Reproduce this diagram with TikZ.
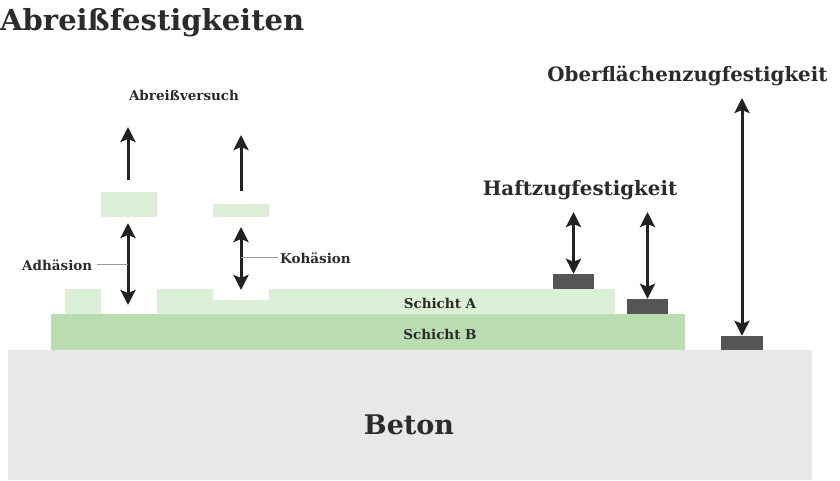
\documentclass[tikz,border=0pt]{standalone}
\usepackage{fontspec}
\setmainfont{DejaVu Serif}
\usetikzlibrary{arrows.meta,positioning}
\definecolor{textgray}{HTML}{2B2B2B}
\definecolor{arrowgray}{HTML}{222222}
\definecolor{schichta}{HTML}{DCEFD7}
\definecolor{schichtb}{HTML}{B9DDB1}
\definecolor{beton}{HTML}{E8E8E8}
\definecolor{stempel}{HTML}{555555}
\tikzset{
  spitze/.tip={Stealth[length=15pt,width=15pt,inset=3pt]},
  pfeil/.style={draw=arrowgray,line width=3pt,-spitze},
  doppelpfeil/.style={pfeil,spitze-spitze},
  stempelbox/.style={rectangle,fill=stempel,inner sep=0pt,minimum width=41pt,minimum height=15pt},
  stueck/.style={rectangle,fill=schichta,inner sep=0pt,minimum width=56pt},
  beschriftung/.style={text=textgray,font=\bfseries\fontsize{13.5}{15}\selectfont,inner sep=0pt,anchor=base},
  hinweis/.style={draw=gray!80,line width=0.8pt}
}
\begin{document}
\begin{tikzpicture}[x=1pt,y=-1pt,line join=round]
	\useasboundingbox (0,0) rectangle (840,480);
	% Untergrund und Schichten
	\fill[beton] (8,350) rectangle (812,480);
	\fill[schichtb] (51,314) rectangle (685,350);
	\fill[schichta] (65,289) rectangle (101,314);
	\fill[schichta] (157,314)--(157,289)--(213,289)--(213,300)--(269,300)--(269,289)
		--(615,289)--(615,314)--cycle;
	% abgerissene Stuecke
	\node[stueck,minimum height=25pt] (adhstueck) at (129,204.5) {};
	\node[stueck,minimum height=13pt] (kohstueck) at (241,210.5) {};
	% Pruefstempel
	\node[stempelbox] (stempelA) at (573.5,281.5) {};
	\node[stempelbox] (stempelB) at (647.5,306.5) {};
	\node[stempelbox,minimum width=42pt,minimum height=14pt] (stempelC) at (742,343) {};
	% Pfeilenden
	\coordinate (adhoben) at (128,127);
	\coordinate (adhstart) at (128,180);
	\coordinate (adhmitte) at (128,223);
	\coordinate (adhunten) at (128,305);
	\coordinate (kohoben) at (241,135);
	\coordinate (kohstart) at (241,191);
	\coordinate (kohmitte) at (241,227);
	\coordinate (kohunten) at (241,290);
	\coordinate (haftA) at (573.5,212);
	\coordinate (haftB) at (647.5,212);
	\coordinate (oberC) at (742,98);
	\draw[pfeil] (adhstart)--(adhoben);
	\draw[pfeil] (kohstart)--(kohoben);
	\draw[doppelpfeil] (adhmitte)--(adhunten);
	\draw[doppelpfeil] (kohmitte)--(kohunten);
	\draw[doppelpfeil] (haftA)--(stempelA.north);
	\draw[doppelpfeil] (haftB)--(stempelB.north);
	\draw[doppelpfeil] (oberC)--(stempelC.north);
	% Beschriftungen
	\node[beschriftung,font=\bfseries\fontsize{29}{32}\selectfont,anchor=base west] (titel) at (0,30) {Abreißfestigkeiten};
	\node[beschriftung] (versuch) at (184,100) {Abreißversuch};
	\node[beschriftung,anchor=base west] (adhtext) at (22,270) {Adhäsion};
	\node[beschriftung,anchor=base west] (kohtext) at (280,263) {Kohäsion};
	\draw[hinweis] (adhtext.east) ++(5pt,0) coordinate (adhlinie) -- (adhlinie -| adhmitte);
	\draw[hinweis] (kohtext.west) ++(-2pt,0) coordinate (kohlinie) -- (kohlinie -| kohmitte);
	\node[beschriftung] (schichtatext) at (440,308) {Schicht A};
	\node[beschriftung] (schichtbtext) at (440,339) {Schicht B};
	\node[beschriftung,font=\bfseries\fontsize{19.8}{22}\selectfont] (hafttext) at (580,195) {Haftzugfestigkeit};
	\node[beschriftung,font=\bfseries\fontsize{19.8}{22}\selectfont] (obertext) at (687.5,81) {Oberflächenzugfestigkeit};
	\node[beschriftung,font=\bfseries\fontsize{27}{30}\selectfont] (betontext) at (409,434) {Beton};
\end{tikzpicture}
\end{document}
